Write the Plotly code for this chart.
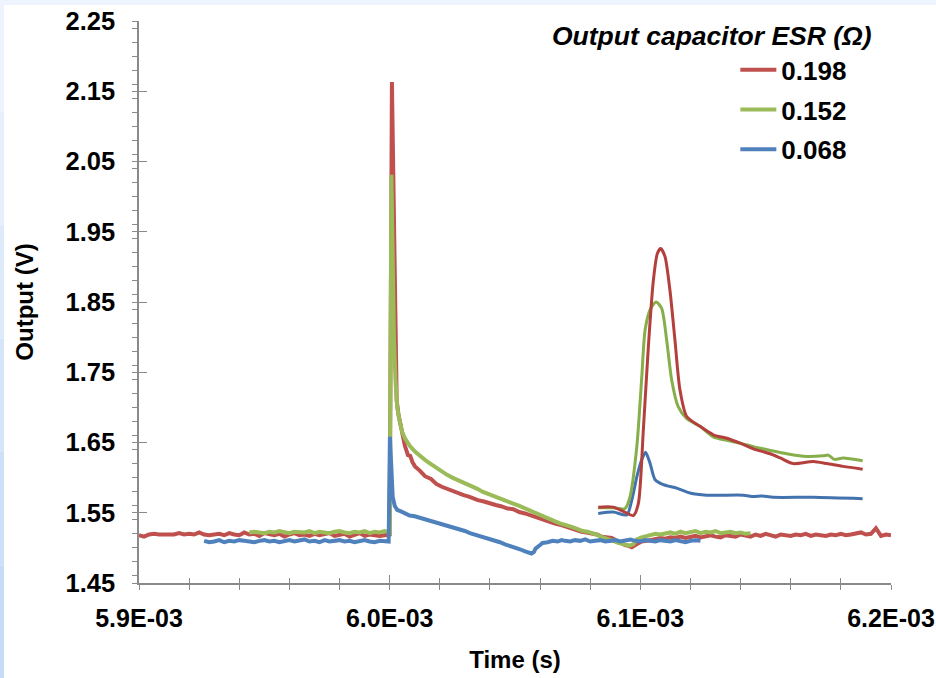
import plotly.graph_objects as go

# ---------------- data (time in microseconds, output in volts) ----------------
series_names = ["0.198", "0.152", "0.068"]
legend_title = "Output capacitor ESR (Ω)"
x_tick_vals_us = [5900, 6000, 6100, 6200]
x_tick_text = ["5.9E-03", "6.0E-03", "6.1E-03", "6.2E-03"]
y_tick_vals = [1.45, 1.55, 1.65, 1.75, 1.85, 1.95, 2.05, 2.15, 2.25]

# ---- first event (noisy traces) ----
red_base_start = 5900
red_base = [1.518, 1.516, 1.519, 1.520, 1.519, 1.519, 1.520, 1.519, 1.521, 1.519,
            1.520, 1.519, 1.522, 1.519, 1.518, 1.519, 1.520, 1.518, 1.521, 1.519,
            1.518, 1.522, 1.519, 1.520, 1.517, 1.521, 1.519, 1.518, 1.520, 1.516,
            1.519, 1.521, 1.518, 1.519, 1.517, 1.520, 1.518, 1.519, 1.521, 1.517,
            1.518, 1.520, 1.516, 1.519, 1.521, 1.517, 1.519, 1.518, 1.517, 1.518, 1.519]
red_event_t = [6000.9, 6001.3, 6001.8, 6002.3, 6002.8, 6003.5, 6004.3, 6005.2, 6006.1, 6007.3,
               6008.2, 6009.1, 6010.1, 6012.0, 6014.1, 6016.5, 6018.6, 6020.8, 6023.0, 6025.1,
               6027.3, 6029.5, 6031.6, 6033.4, 6035.2, 6037.6, 6040.0, 6042.3, 6044.7, 6047.0,
               6049.3, 6051.7, 6054.0, 6056.3, 6058.6, 6060.9, 6063.2, 6065.6, 6067.9, 6070.3,
               6072.6, 6074.6, 6076.6, 6078.6, 6080.6, 6082.6, 6084.6, 6086.6, 6088.6, 6090.6,
               6092.2, 6093.9, 6095.2, 6096.6, 6098.5, 6100.5, 6102.5, 6104.5]
red_event_v = [2.163, 2.050, 1.900, 1.780, 1.710, 1.690, 1.675, 1.660, 1.645, 1.632,
               1.631, 1.622, 1.616, 1.610, 1.602, 1.598, 1.591, 1.587, 1.584, 1.580,
               1.578, 1.575, 1.573, 1.570, 1.568, 1.566, 1.563, 1.561, 1.559, 1.556,
               1.555, 1.551, 1.549, 1.546, 1.543, 1.540, 1.537, 1.535, 1.533, 1.530,
               1.528, 1.525, 1.523, 1.522, 1.521, 1.519, 1.516, 1.515, 1.514, 1.510,
               1.507, 1.504, 1.503, 1.501, 1.505, 1.509, 1.510, 1.511]
red_post_start = 6106
red_post = [1.512, 1.514, 1.513, 1.515, 1.514, 1.516, 1.514, 1.515, 1.517, 1.515,
            1.516, 1.518, 1.516, 1.515, 1.518, 1.517, 1.516, 1.519, 1.518, 1.516,
            1.519, 1.517, 1.520, 1.518, 1.516, 1.519, 1.518, 1.517, 1.519, 1.518,
            1.520, 1.517, 1.519, 1.518, 1.517, 1.519, 1.518, 1.520, 1.518, 1.519,
            1.521, 1.522, 1.519, 1.520, 1.528, 1.517, 1.519, 1.518]

green_base_start = 5944
green_base = [1.522, 1.523, 1.522, 1.521, 1.523, 1.522, 1.524, 1.522, 1.521, 1.523,
              1.522, 1.522, 1.524, 1.521, 1.523, 1.522, 1.521, 1.523, 1.524, 1.522,
              1.521, 1.523, 1.522, 1.524, 1.521, 1.523, 1.522, 1.524, 1.522]
green_event_t = [6000.7, 6001.2, 6001.7, 6002.3, 6003.0, 6003.9, 6005.0, 6006.1, 6008.1, 6010.1,
                 6012.2, 6014.2, 6016.2, 6018.5, 6020.8, 6022.9, 6025.0, 6027.0, 6029.0, 6031.0,
                 6033.0, 6035.0, 6037.0, 6039.0, 6041.0, 6043.0, 6045.0, 6047.1, 6049.3, 6051.5,
                 6054.0, 6056.3, 6058.6, 6061.0, 6063.3, 6065.8, 6068.0, 6070.2, 6072.6, 6074.8,
                 6077.0, 6079.0, 6081.0, 6083.0, 6085.0, 6087.0, 6089.2, 6091.2, 6093.5, 6095.5,
                 6097.2, 6098.6, 6100.5, 6102.5, 6104.5]
green_event_v = [2.031, 1.900, 1.800, 1.740, 1.700, 1.682, 1.665, 1.656, 1.645, 1.637,
                 1.630, 1.625, 1.620, 1.614, 1.609, 1.604, 1.600, 1.597, 1.594, 1.590,
                 1.587, 1.584, 1.580, 1.577, 1.575, 1.572, 1.569, 1.566, 1.563, 1.560,
                 1.556, 1.552, 1.549, 1.546, 1.542, 1.538, 1.535, 1.533, 1.530, 1.527,
                 1.524, 1.523, 1.521, 1.518, 1.515, 1.513, 1.510, 1.507, 1.505, 1.503,
                 1.505, 1.512, 1.515, 1.517, 1.519]
green_post_start = 6106
green_post = [1.520, 1.519, 1.521, 1.522, 1.520, 1.523, 1.521, 1.522, 1.524, 1.521,
              1.523, 1.522, 1.524, 1.521, 1.522, 1.523, 1.521, 1.522, 1.520, 1.521]

blue_base_start = 5926
blue_base = [1.510, 1.508, 1.509, 1.511, 1.508, 1.510, 1.509, 1.511, 1.510, 1.509,
             1.508, 1.510, 1.511, 1.509, 1.510, 1.508, 1.510, 1.511, 1.509, 1.510,
             1.512, 1.509, 1.510, 1.508, 1.511, 1.509, 1.510, 1.511, 1.509, 1.510,
             1.508, 1.510, 1.511, 1.509, 1.508, 1.510, 1.509]
blue_event_t = [5999.6, 6000.1, 6000.6, 6001.2, 6002.0, 6003.0, 6004.5, 6006.0, 6008.0, 6010.0,
                6012.0, 6014.1, 6016.0, 6018.0, 6020.0, 6022.0, 6024.0, 6026.0, 6028.0, 6030.0,
                6032.0, 6034.0, 6036.0, 6038.0, 6040.0, 6042.0, 6044.0, 6046.0, 6048.0, 6050.0,
                6052.0, 6054.0, 6055.8, 6056.6, 6057.5, 6058.2, 6060.0, 6061.0, 6063.0, 6065.0,
                6067.0, 6068.6]
blue_event_v = [1.509, 1.658, 1.620, 1.573, 1.560, 1.554, 1.552, 1.549, 1.546, 1.545,
                1.543, 1.540, 1.539, 1.536, 1.535, 1.532, 1.530, 1.528, 1.526, 1.524,
                1.521, 1.519, 1.517, 1.515, 1.513, 1.511, 1.508, 1.505, 1.503, 1.500,
                1.498, 1.495, 1.493, 1.492, 1.494, 1.499, 1.504, 1.507, 1.508, 1.510,
                1.509, 1.511]
blue_post_start = 6070
blue_post = [1.510, 1.509, 1.511, 1.510, 1.512, 1.509, 1.510, 1.511, 1.509, 1.510,
             1.511, 1.509, 1.510, 1.512, 1.510, 1.509, 1.511, 1.510, 1.509, 1.511,
             1.510, 1.509, 1.511, 1.510, 1.508, 1.510, 1.511, 1.510]

# ---- second event (smooth traces) ----
red2_t = [6083.2, 6089.2, 6093.2, 6097.2, 6099.2, 6101.2, 6103.2, 6105.2, 6106.8, 6108.1,
          6109.8, 6111.8, 6113.8, 6115.8, 6118.5, 6123.8, 6129.1, 6134.5, 6139.8, 6145.1,
          6151.8, 6155.8, 6161.0, 6169.0, 6174.4, 6181.0, 6188.7]
red2_v = [1.558, 1.558, 1.552, 1.546, 1.563, 1.668, 1.786, 1.881, 1.919, 1.926,
          1.915, 1.867, 1.796, 1.725, 1.687, 1.673, 1.661, 1.656, 1.649, 1.641,
          1.634, 1.628, 1.620, 1.623, 1.620, 1.616, 1.612]
green2_t = [6083.2, 6089.2, 6093.9, 6095.9, 6098.6, 6100.5, 6101.9, 6103.9, 6106.3, 6108.5,
            6110.5, 6112.5, 6115.1, 6118.5, 6123.8, 6129.1, 6134.5, 6139.8, 6145.1, 6151.5,
            6158.4, 6166.4, 6173.0, 6175.0, 6177.4, 6180.9, 6188.7]
green2_v = [1.557, 1.557, 1.556, 1.573, 1.644, 1.739, 1.810, 1.839, 1.850, 1.841,
            1.796, 1.739, 1.701, 1.684, 1.673, 1.658, 1.653, 1.649, 1.644, 1.639,
            1.634, 1.630, 1.631, 1.632, 1.626, 1.628, 1.624]
blue2_t = [6083.2, 6089.2, 6094.6, 6096.6, 6098.6, 6100.5, 6102.1, 6103.9, 6105.9, 6109.2,
           6114.5, 6119.8, 6126.5, 6141.1, 6145.1, 6148.4, 6153.0, 6169.0, 6188.7]
blue2_v = [1.549, 1.551, 1.547, 1.568, 1.601, 1.625, 1.636, 1.620, 1.597, 1.590,
           1.585, 1.578, 1.575, 1.575, 1.573, 1.574, 1.572, 1.572, 1.570]

# ---------------- assembly ----------------
def grid(start, vals, step=2.0):
    return [start + step * i for i in range(len(vals))]

def to_s(ts):
    return [t * 1e-6 for t in ts]

red_t = grid(red_base_start, red_base) + red_event_t + grid(red_post_start, red_post)
red_v = red_base + red_event_v + red_post
green_t = grid(green_base_start, green_base) + green_event_t + grid(green_post_start, green_post)
green_v = green_base + green_event_v + green_post
blue_t = grid(blue_base_start, blue_base) + blue_event_t + grid(blue_post_start, blue_post)
blue_v = blue_base + blue_event_v + blue_post

RED, GREEN, BLUE = "#C0504D", "#9BBB59", "#4F81BD"
RED2, GREEN2, BLUE2 = "#B3403D", "#86AE4A", "#4373AE"
FONT = "Liberation Sans, Arial, sans-serif"

fig = go.Figure()
for t, v, c, name in [(red_t, red_v, RED, series_names[0]),
                      (green_t, green_v, GREEN, series_names[1]),
                      (blue_t, blue_v, BLUE, series_names[2])]:
    fig.add_trace(go.Scatter(x=to_s(t), y=v, mode="lines", name=name, legendgroup=name,
                             line=dict(color=c, width=4), showlegend=True))
for t, v, c, name in [(blue2_t, blue2_v, BLUE2, series_names[2]),
                      (green2_t, green2_v, GREEN2, series_names[1]),
                      (red2_t, red2_v, RED2, series_names[0])]:
    fig.add_trace(go.Scatter(x=to_s(t), y=v, mode="lines", name=name, legendgroup=name,
                             line=dict(color=c, width=3, shape="spline", smoothing=0.7),
                             showlegend=False))

# dummy trace so the overlay axes (used for the inward half of the cross ticks) exist
fig.add_trace(go.Scatter(x=[None], y=[None], xaxis="x2", yaxis="y2", showlegend=False,
                         hoverinfo="skip"))

xr = [x_tick_vals_us[0] * 1e-6, x_tick_vals_us[-1] * 1e-6]
yr = [y_tick_vals[0], y_tick_vals[-1]]
tick_col = "#8A8A8A"

fig.update_layout(
    width=936, height=678,
    margin=dict(l=139, r=45, t=21, b=95),
    paper_bgcolor="white", plot_bgcolor="white",
    font=dict(family=FONT, color="black"),
    xaxis=dict(range=xr, tickvals=to_s(x_tick_vals_us), ticktext=x_tick_text, automargin=False,
               showgrid=False, zeroline=False, showline=True, linecolor=tick_col, linewidth=1.5,
               ticks="outside", ticklen=5, tickcolor=tick_col, tickwidth=1.3,
               minor=dict(dtick=20e-6, ticks="outside", ticklen=5, tickcolor=tick_col, tickwidth=1.3),
               tickfont=dict(size=25, family=FONT, weight="bold"), ticklabelstandoff=7,
               title=dict(text="Time (s)", font=dict(size=24, family=FONT, weight="bold"), standoff=20)),
    yaxis=dict(range=yr, tickvals=y_tick_vals, ticktext=[f"{v:.2f}" for v in y_tick_vals],
               automargin=False,
               showgrid=False, zeroline=False, showline=True, linecolor=tick_col, linewidth=1.5,
               ticks="outside", ticklen=5, tickcolor=tick_col, tickwidth=1.3,
               minor=dict(dtick=0.02, ticks="outside", ticklen=5, tickcolor=tick_col, tickwidth=1.3),
               tickfont=dict(size=25.5, family=FONT, weight="bold"), ticklabelstandoff=12,
               title=dict(text="Output (V)", font=dict(size=24, family=FONT, weight="bold"), standoff=25)),
    xaxis2=dict(range=xr, overlaying="x", anchor="y2", side="bottom", tickvals=to_s(x_tick_vals_us),
                showticklabels=False, showgrid=False, zeroline=False, showline=False, automargin=False,
                ticks="inside", ticklen=8, tickcolor=tick_col, tickwidth=1.3,
                minor=dict(dtick=20e-6, ticks="inside", ticklen=5, tickcolor=tick_col, tickwidth=1.3)),
    yaxis2=dict(range=yr, overlaying="y", anchor="x2", side="left", tickvals=y_tick_vals,
                showticklabels=False, showgrid=False, zeroline=False, showline=False, automargin=False,
                ticks="inside", ticklen=8, tickcolor=tick_col, tickwidth=1.3),
    legend=dict(x=0.793, y=0.955, xanchor="left", yanchor="top", bgcolor="rgba(0,0,0,0)",
                font=dict(size=26, family=FONT, weight="bold"), traceorder="grouped",
                tracegroupgap=3, itemwidth=36),
    annotations=[dict(text="<b><i>" + legend_title + "</i></b>", xref="paper", yref="paper",
                      x=0.977, y=0.973, xanchor="right", yanchor="middle", showarrow=False,
                      font=dict(size=26.5, family=FONT))],
)

# light-blue page edge (decoration)
shapes = [dict(type="rect", xref="paper", yref="paper", x0=-0.2, x1=1.1, y0=1.0285, y1=1.05,
               fillcolor="#EEF4FD", line=dict(width=0), layer="below")]
edge_cols = ["#EEF4FD", "#E6EFFB", "#DDEAFA", "#D5E5F9", "#CDE0F8", "#C6DCF7"]
n = len(edge_cols)
for i, col in enumerate(edge_cols):
    y_top = 1.04 - i * (1.04 + 0.17) / n
    y_bot = 1.04 - (i + 1) * (1.04 + 0.17) / n
    shapes.append(dict(type="rect", xref="paper", yref="paper", x0=-0.19, x1=-0.1795,
                       y0=y_bot, y1=y_top, fillcolor=col, line=dict(width=0), layer="below"))
fig.update_layout(shapes=shapes)

fig.write_html("out.html")
